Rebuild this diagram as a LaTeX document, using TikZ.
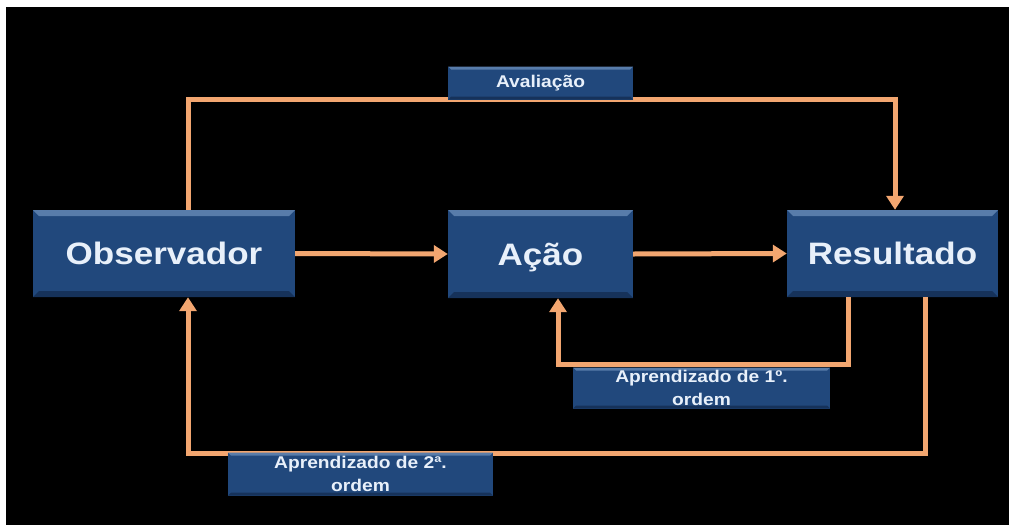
\documentclass[tikz,border=0pt]{standalone}
\usepackage{fontspec}
\setmainfont{Liberation Sans}
\newfontfamily\widef{Liberation Sans}[FakeStretch=1.13]
\usetikzlibrary{arrows.meta,calc}
\definecolor{bg}{RGB}{0,0,0}
\definecolor{boxblue}{RGB}{33,72,124}
\definecolor{boxhi}{RGB}{88,124,170}
\definecolor{boxlo}{RGB}{22,50,90}
\definecolor{lineor}{RGB}{242,166,112}
\definecolor{txt}{RGB}{232,240,250}
\tikzset{
  bevel/.style={fill=boxblue, inner sep=0pt, text=txt, align=center,
    path picture={
      \fill[boxhi] (path picture bounding box.north west) -- (path picture bounding box.north east)
        -- ($(path picture bounding box.north east)+(-#1,-#1)$) -- ($(path picture bounding box.north west)+(#1,-#1)$) -- cycle;
      \fill[boxlo] (path picture bounding box.south west) -- (path picture bounding box.south east)
        -- ($(path picture bounding box.south east)+(-#1,#1)$) -- ($(path picture bounding box.south west)+(#1,#1)$) -- cycle;
    }},
  bigbox/.style={bevel=6pt, text height=28pt, text depth=6pt, font=\widef\bfseries\fontsize{31}{36}\selectfont},
  smallbox/.style={bevel=3pt, font=\widef\bfseries\fontsize{17}{23}\selectfont},
  conn/.style={draw=lineor, line width=5pt, line join=miter},
  arr/.style={conn, -{Triangle[width=17pt,length=14pt]}}
}
\begin{document}
\begin{tikzpicture}[x=1pt,y=-1pt]
\useasboundingbox (0,0) rectangle (1009,525);
\fill[white] (0,0) rectangle (1009,525);
\fill[bg] (6,7) rectangle (1009,525);
% main boxes
\node[bigbox, minimum width=262pt, minimum height=87pt] (obs) at (164,253.5) {Observador};
\node[bigbox, minimum width=185pt, minimum height=88pt] (acao) at (540.5,254) {Ação};
\node[bigbox, minimum width=211pt, minimum height=87pt] (res) at (892.5,253.5) {Resultado};
% helper coordinates
\coordinate (t1) at (188,99);
\coordinate (t2) at (895,99);
\coordinate (c1) at (558,364);
\coordinate (c1r) at (848,364);
\coordinate (c2) at (188,453);
\coordinate (c2r) at (925,453);
% connectors
\draw[arr] (obs.north -| t1) -- (t1) -- (t2) -- (res.north -| t2);
\draw[arr] (obs.east) -- (acao.west);
\draw[arr] (acao.east) -- (res.west);
\draw[arr] (res.south -| c1r) -- (c1r) -- (c1) -- (acao.south -| c1);
\draw[arr] (res.south -| c2r) -- (c2r) -- (c2) -- (obs.south -| c2);
% label boxes
\node[smallbox, minimum width=185pt, minimum height=33pt] (aval) at (540.5,83) {Avaliação};
\node[smallbox, minimum width=257pt, minimum height=41pt] (l1) at (701.5,388) {Aprendizado de 1º.\\ordem};
\node[smallbox, minimum width=265pt, minimum height=43pt] (l2) at (360.5,474) {Aprendizado de 2ª.\\ordem};
\end{tikzpicture}
\end{document}
